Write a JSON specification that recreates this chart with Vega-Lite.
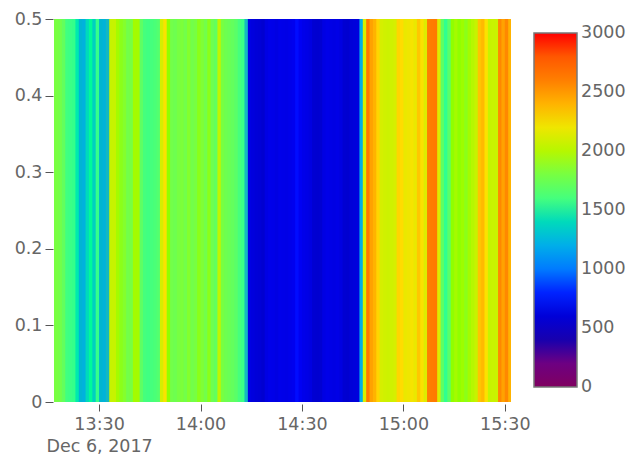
{"$schema":"https://vega.github.io/schema/vega-lite/v6.json","width":457,"height":383,"autosize":{"type":"none"},"padding":{"left":54,"top":19,"right":128,"bottom":54},"background":"white","view":{"stroke":null},
"config":{"font":"DejaVu Sans"},
"data":{"values":[
{"t":"2017-12-06T13:16:00Z","t2":"2017-12-06T13:17:30Z","v":1800},{"t":"2017-12-06T13:17:00Z","t2":"2017-12-06T13:18:30Z","v":1800},{"t":"2017-12-06T13:18:00Z","t2":"2017-12-06T13:19:30Z","v":1780},{"t":"2017-12-06T13:19:00Z","t2":"2017-12-06T13:20:30Z","v":1720},{"t":"2017-12-06T13:20:00Z","t2":"2017-12-06T13:21:30Z","v":1580},{"t":"2017-12-06T13:21:00Z","t2":"2017-12-06T13:22:30Z","v":1560},{"t":"2017-12-06T13:22:00Z","t2":"2017-12-06T13:23:30Z","v":1540},{"t":"2017-12-06T13:23:00Z","t2":"2017-12-06T13:24:30Z","v":1450},{"t":"2017-12-06T13:24:00Z","t2":"2017-12-06T13:25:30Z","v":1250},{"t":"2017-12-06T13:25:00Z","t2":"2017-12-06T13:26:30Z","v":1230},{"t":"2017-12-06T13:26:00Z","t2":"2017-12-06T13:27:30Z","v":1400},{"t":"2017-12-06T13:27:00Z","t2":"2017-12-06T13:28:30Z","v":1500},{"t":"2017-12-06T13:28:00Z","t2":"2017-12-06T13:29:30Z","v":1370},{"t":"2017-12-06T13:29:00Z","t2":"2017-12-06T13:30:30Z","v":1540},
{"t":"2017-12-06T13:30:00Z","t2":"2017-12-06T13:31:30Z","v":1260},{"t":"2017-12-06T13:31:00Z","t2":"2017-12-06T13:32:30Z","v":1240},{"t":"2017-12-06T13:32:00Z","t2":"2017-12-06T13:33:30Z","v":1300},{"t":"2017-12-06T13:33:00Z","t2":"2017-12-06T13:34:30Z","v":2050},{"t":"2017-12-06T13:34:00Z","t2":"2017-12-06T13:35:30Z","v":2050},{"t":"2017-12-06T13:35:00Z","t2":"2017-12-06T13:36:30Z","v":1950},{"t":"2017-12-06T13:36:00Z","t2":"2017-12-06T13:37:30Z","v":1880},{"t":"2017-12-06T13:37:00Z","t2":"2017-12-06T13:38:30Z","v":1850},{"t":"2017-12-06T13:38:00Z","t2":"2017-12-06T13:39:30Z","v":1780},{"t":"2017-12-06T13:39:00Z","t2":"2017-12-06T13:40:30Z","v":1800},{"t":"2017-12-06T13:40:00Z","t2":"2017-12-06T13:41:30Z","v":1950},{"t":"2017-12-06T13:41:00Z","t2":"2017-12-06T13:42:30Z","v":1950},{"t":"2017-12-06T13:42:00Z","t2":"2017-12-06T13:43:30Z","v":1700},{"t":"2017-12-06T13:43:00Z","t2":"2017-12-06T13:44:30Z","v":1600},{"t":"2017-12-06T13:44:00Z","t2":"2017-12-06T13:45:30Z","v":1580},{"t":"2017-12-06T13:45:00Z","t2":"2017-12-06T13:46:30Z","v":1600},{"t":"2017-12-06T13:46:00Z","t2":"2017-12-06T13:47:30Z","v":1620},{"t":"2017-12-06T13:47:00Z","t2":"2017-12-06T13:48:30Z","v":1650},{"t":"2017-12-06T13:48:00Z","t2":"2017-12-06T13:49:30Z","v":2100},{"t":"2017-12-06T13:49:00Z","t2":"2017-12-06T13:50:30Z","v":2250},{"t":"2017-12-06T13:50:00Z","t2":"2017-12-06T13:51:30Z","v":1900},{"t":"2017-12-06T13:51:00Z","t2":"2017-12-06T13:52:30Z","v":1780},{"t":"2017-12-06T13:52:00Z","t2":"2017-12-06T13:53:30Z","v":1760},{"t":"2017-12-06T13:53:00Z","t2":"2017-12-06T13:54:30Z","v":1800},{"t":"2017-12-06T13:54:00Z","t2":"2017-12-06T13:55:30Z","v":1820},{"t":"2017-12-06T13:55:00Z","t2":"2017-12-06T13:56:30Z","v":1780},{"t":"2017-12-06T13:56:00Z","t2":"2017-12-06T13:57:30Z","v":1850},{"t":"2017-12-06T13:57:00Z","t2":"2017-12-06T13:58:30Z","v":1780},{"t":"2017-12-06T13:58:00Z","t2":"2017-12-06T13:59:30Z","v":1800},{"t":"2017-12-06T13:59:00Z","t2":"2017-12-06T14:00:30Z","v":1880},
{"t":"2017-12-06T14:00:00Z","t2":"2017-12-06T14:01:30Z","v":1830},{"t":"2017-12-06T14:01:00Z","t2":"2017-12-06T14:02:30Z","v":1780},{"t":"2017-12-06T14:02:00Z","t2":"2017-12-06T14:03:30Z","v":1880},{"t":"2017-12-06T14:03:00Z","t2":"2017-12-06T14:04:30Z","v":1760},{"t":"2017-12-06T14:04:00Z","t2":"2017-12-06T14:05:30Z","v":1720},{"t":"2017-12-06T14:05:00Z","t2":"2017-12-06T14:06:30Z","v":2030},{"t":"2017-12-06T14:06:00Z","t2":"2017-12-06T14:07:30Z","v":1800},{"t":"2017-12-06T14:07:00Z","t2":"2017-12-06T14:08:30Z","v":1760},{"t":"2017-12-06T14:08:00Z","t2":"2017-12-06T14:09:30Z","v":1740},{"t":"2017-12-06T14:09:00Z","t2":"2017-12-06T14:10:30Z","v":1720},{"t":"2017-12-06T14:10:00Z","t2":"2017-12-06T14:11:30Z","v":1680},{"t":"2017-12-06T14:11:00Z","t2":"2017-12-06T14:12:30Z","v":1600},{"t":"2017-12-06T14:12:00Z","t2":"2017-12-06T14:13:30Z","v":1560},{"t":"2017-12-06T14:13:00Z","t2":"2017-12-06T14:14:30Z","v":1300},{"t":"2017-12-06T14:14:00Z","t2":"2017-12-06T14:15:30Z","v":650},{"t":"2017-12-06T14:15:00Z","t2":"2017-12-06T14:16:30Z","v":620},{"t":"2017-12-06T14:16:00Z","t2":"2017-12-06T14:17:30Z","v":600},{"t":"2017-12-06T14:17:00Z","t2":"2017-12-06T14:18:30Z","v":590},{"t":"2017-12-06T14:18:00Z","t2":"2017-12-06T14:19:30Z","v":560},{"t":"2017-12-06T14:19:00Z","t2":"2017-12-06T14:20:30Z","v":650},{"t":"2017-12-06T14:20:00Z","t2":"2017-12-06T14:21:30Z","v":680},{"t":"2017-12-06T14:21:00Z","t2":"2017-12-06T14:22:30Z","v":670},{"t":"2017-12-06T14:22:00Z","t2":"2017-12-06T14:23:30Z","v":650},{"t":"2017-12-06T14:23:00Z","t2":"2017-12-06T14:24:30Z","v":680},{"t":"2017-12-06T14:24:00Z","t2":"2017-12-06T14:25:30Z","v":670},{"t":"2017-12-06T14:25:00Z","t2":"2017-12-06T14:26:30Z","v":660},{"t":"2017-12-06T14:26:00Z","t2":"2017-12-06T14:27:30Z","v":680},{"t":"2017-12-06T14:27:00Z","t2":"2017-12-06T14:28:30Z","v":700},{"t":"2017-12-06T14:28:00Z","t2":"2017-12-06T14:29:30Z","v":780},{"t":"2017-12-06T14:29:00Z","t2":"2017-12-06T14:30:30Z","v":720},
{"t":"2017-12-06T14:30:00Z","t2":"2017-12-06T14:31:30Z","v":680},{"t":"2017-12-06T14:31:00Z","t2":"2017-12-06T14:32:30Z","v":660},{"t":"2017-12-06T14:32:00Z","t2":"2017-12-06T14:33:30Z","v":640},{"t":"2017-12-06T14:33:00Z","t2":"2017-12-06T14:34:30Z","v":570},{"t":"2017-12-06T14:34:00Z","t2":"2017-12-06T14:35:30Z","v":560},{"t":"2017-12-06T14:35:00Z","t2":"2017-12-06T14:36:30Z","v":570},{"t":"2017-12-06T14:36:00Z","t2":"2017-12-06T14:37:30Z","v":650},{"t":"2017-12-06T14:37:00Z","t2":"2017-12-06T14:38:30Z","v":670},{"t":"2017-12-06T14:38:00Z","t2":"2017-12-06T14:39:30Z","v":660},{"t":"2017-12-06T14:39:00Z","t2":"2017-12-06T14:40:30Z","v":650},{"t":"2017-12-06T14:40:00Z","t2":"2017-12-06T14:41:30Z","v":660},{"t":"2017-12-06T14:41:00Z","t2":"2017-12-06T14:42:30Z","v":640},{"t":"2017-12-06T14:42:00Z","t2":"2017-12-06T14:43:30Z","v":570},{"t":"2017-12-06T14:43:00Z","t2":"2017-12-06T14:44:30Z","v":560},{"t":"2017-12-06T14:44:00Z","t2":"2017-12-06T14:45:30Z","v":600},{"t":"2017-12-06T14:45:00Z","t2":"2017-12-06T14:46:30Z","v":610},{"t":"2017-12-06T14:46:00Z","t2":"2017-12-06T14:47:30Z","v":620},{"t":"2017-12-06T14:47:00Z","t2":"2017-12-06T14:48:30Z","v":1200},{"t":"2017-12-06T14:48:00Z","t2":"2017-12-06T14:49:30Z","v":2100},{"t":"2017-12-06T14:49:00Z","t2":"2017-12-06T14:50:30Z","v":2650},{"t":"2017-12-06T14:50:00Z","t2":"2017-12-06T14:51:30Z","v":2450},{"t":"2017-12-06T14:51:00Z","t2":"2017-12-06T14:52:30Z","v":2400},{"t":"2017-12-06T14:52:00Z","t2":"2017-12-06T14:53:30Z","v":2300},{"t":"2017-12-06T14:53:00Z","t2":"2017-12-06T14:54:30Z","v":2100},{"t":"2017-12-06T14:54:00Z","t2":"2017-12-06T14:55:30Z","v":2080},{"t":"2017-12-06T14:55:00Z","t2":"2017-12-06T14:56:30Z","v":2070},{"t":"2017-12-06T14:56:00Z","t2":"2017-12-06T14:57:30Z","v":2080},{"t":"2017-12-06T14:57:00Z","t2":"2017-12-06T14:58:30Z","v":2100},{"t":"2017-12-06T14:58:00Z","t2":"2017-12-06T14:59:30Z","v":2300},{"t":"2017-12-06T14:59:00Z","t2":"2017-12-06T15:00:30Z","v":2280},
{"t":"2017-12-06T15:00:00Z","t2":"2017-12-06T15:01:30Z","v":2180},{"t":"2017-12-06T15:01:00Z","t2":"2017-12-06T15:02:30Z","v":2200},{"t":"2017-12-06T15:02:00Z","t2":"2017-12-06T15:03:30Z","v":2230},{"t":"2017-12-06T15:03:00Z","t2":"2017-12-06T15:04:30Z","v":2180},{"t":"2017-12-06T15:04:00Z","t2":"2017-12-06T15:05:30Z","v":2340},{"t":"2017-12-06T15:05:00Z","t2":"2017-12-06T15:06:30Z","v":2250},{"t":"2017-12-06T15:06:00Z","t2":"2017-12-06T15:07:30Z","v":2130},{"t":"2017-12-06T15:07:00Z","t2":"2017-12-06T15:08:30Z","v":2600},{"t":"2017-12-06T15:08:00Z","t2":"2017-12-06T15:09:30Z","v":2620},{"t":"2017-12-06T15:09:00Z","t2":"2017-12-06T15:10:30Z","v":2630},{"t":"2017-12-06T15:10:00Z","t2":"2017-12-06T15:11:30Z","v":2120},{"t":"2017-12-06T15:11:00Z","t2":"2017-12-06T15:12:30Z","v":1700},{"t":"2017-12-06T15:12:00Z","t2":"2017-12-06T15:13:30Z","v":1520},{"t":"2017-12-06T15:13:00Z","t2":"2017-12-06T15:14:30Z","v":1680},{"t":"2017-12-06T15:14:00Z","t2":"2017-12-06T15:15:30Z","v":1900},{"t":"2017-12-06T15:15:00Z","t2":"2017-12-06T15:16:30Z","v":1950},{"t":"2017-12-06T15:16:00Z","t2":"2017-12-06T15:17:30Z","v":1900},{"t":"2017-12-06T15:17:00Z","t2":"2017-12-06T15:18:30Z","v":1930},{"t":"2017-12-06T15:18:00Z","t2":"2017-12-06T15:19:30Z","v":1880},{"t":"2017-12-06T15:19:00Z","t2":"2017-12-06T15:20:30Z","v":1950},{"t":"2017-12-06T15:20:00Z","t2":"2017-12-06T15:21:30Z","v":2000},{"t":"2017-12-06T15:21:00Z","t2":"2017-12-06T15:22:30Z","v":2050},{"t":"2017-12-06T15:22:00Z","t2":"2017-12-06T15:23:30Z","v":2350},{"t":"2017-12-06T15:23:00Z","t2":"2017-12-06T15:24:30Z","v":2380},{"t":"2017-12-06T15:24:00Z","t2":"2017-12-06T15:25:30Z","v":2250},{"t":"2017-12-06T15:25:00Z","t2":"2017-12-06T15:26:30Z","v":2050},{"t":"2017-12-06T15:26:00Z","t2":"2017-12-06T15:27:30Z","v":2060},{"t":"2017-12-06T15:27:00Z","t2":"2017-12-06T15:28:30Z","v":2060},{"t":"2017-12-06T15:28:00Z","t2":"2017-12-06T15:29:30Z","v":2550},{"t":"2017-12-06T15:29:00Z","t2":"2017-12-06T15:30:30Z","v":2450},{"t":"2017-12-06T15:30:00Z","t2":"2017-12-06T15:31:30Z","v":2550},{"t":"2017-12-06T15:31:00Z","t2":"2017-12-06T15:32:30Z","v":2400}
]},
"mark":{"type":"rect","clip":true},
"encoding":{
"x":{"field":"t","type":"temporal","title":null,
"scale":{"type":"utc","domain":[1512566200000,1512574310000]},
"axis":{"grid":false,"domain":false,"offset":2,"tickSize":7,"tickColor":"#555","values":[1512567000000,1512568800000,1512570600000,1512572400000,1512574200000],"labelFontSize":17.5,"labelColor":"#666","labelPadding":4,"labelFlush":false,"labelOverlap":false,"labelBound":false,"labelLineHeight":22,"labelBaseline":"top",
"labelExpr":"utcFormat(datum.value,'%H:%M')=='13:30'?['13:30','Dec 6, 2017']:utcFormat(datum.value,'%H:%M')"}},
"x2":{"field":"t2"},
"y":{"datum":0,"type":"quantitative","title":null,"scale":{"domain":[0,0.5],"nice":false},
"axis":{"grid":false,"domain":false,"offset":1,"tickSize":8,"tickColor":"#555","values":[0,0.1,0.2,0.3,0.4,0.5],"format":"~g","labelFontSize":17.5,"labelColor":"#666","labelPadding":3,"labelBound":false,"labelOverlap":false}},
"y2":{"datum":0.5},
"color":{"field":"v","type":"quantitative",
"scale":{"domain":[0,410,775,1127,1300,1520,1900,2268,2500,3000],"range":["#800060","#0000b0","#0000ff","#00a0ff","#14b8c0","#30ff90","#90ff00","#ffe000","#ff9000","#ff0000"]},
"legend":{"orient":"none","legendX":480,"legendY":14,"title":null,"direction":"vertical","gradientLength":354,"gradientThickness":43,"gradientStrokeColor":"#777","gradientStrokeWidth":1.5,"values":[0,500,1000,1500,2000,2500,3000],"format":"d","labelFontSize":17.5,"labelColor":"#666","labelOffset":4,"labelOverlap":false,"encoding":{"labels":{"baseline":{"value":"middle"}}}}}
}}
